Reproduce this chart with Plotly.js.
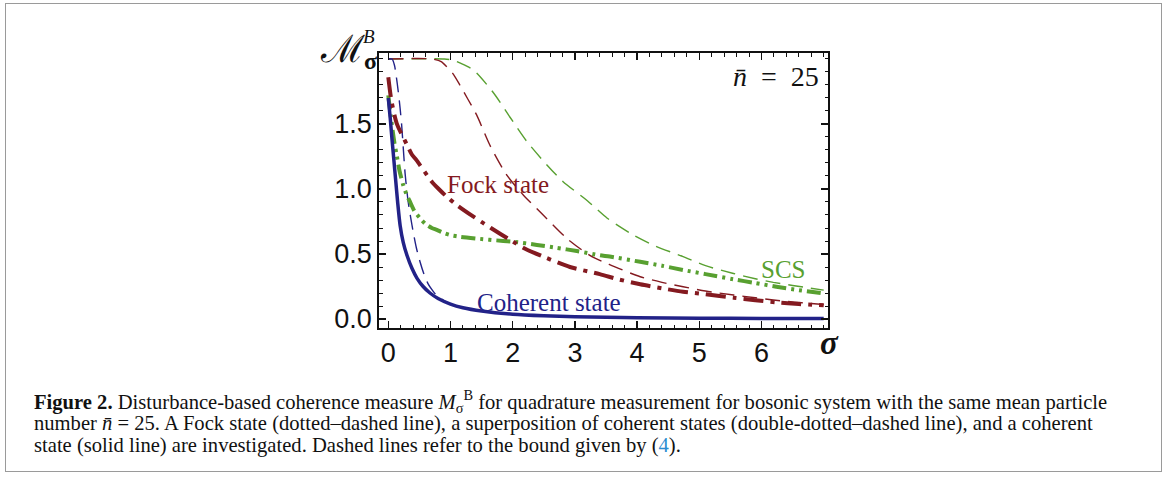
<!DOCTYPE html>
<html>
<head>
<meta charset="utf-8">
<script src="https://cdn.plot.ly/plotly-3.0.1.min.js"></script>
<style>
  html, body { margin: 0; padding: 0; background: #fff; }
  #wrap { position: relative; width: 1168px; height: 477px; overflow: hidden; }
  #border { position: absolute; left: 5px; top: 3px; width: 1155px; height: 467px; border: 1.5px solid #9a9a9a; }
  #plot { position: absolute; left: 0; top: 0; width: 1168px; height: 477px; }
</style>
</head>
<body>
<div id="wrap">
  <div id="border"></div>
  <div id="plot"></div>
</div>
<script>
// ---- data ----
const cohX = [0.0, 0.03, 0.06, 0.09, 0.12, 0.15, 0.19, 0.24, 0.30, 0.38, 0.46, 0.56, 0.67, 0.8, 1.0, 1.2, 1.5, 2.0, 2.5, 3.0, 3.5, 4, 5, 6, 7];
const cohY = [1.70, 1.55, 1.38, 1.22, 1.06, 0.90, 0.72, 0.59, 0.49, 0.39, 0.315, 0.25, 0.20, 0.158, 0.115, 0.087, 0.062, 0.037, 0.025, 0.018, 0.013, 0.010, 0.0065, 0.0045, 0.0035];

const cohBX = [0, 0.06, 0.1, 0.13, 0.16, 0.19, 0.215, 0.24, 0.27, 0.3, 0.32, 0.36, 0.4, 0.45, 0.51, 0.57, 0.64, 0.71, 0.78, 0.9, 1.0, 1.2];
const cohBY = [2.0, 2.0, 1.95, 1.86, 1.75, 1.62, 1.49, 1.32, 1.12, 0.98, 0.90, 0.78, 0.67, 0.55, 0.44, 0.35, 0.27, 0.22, 0.18, 0.14, 0.115, 0.087];

const scsX = [0.0, 0.05, 0.1, 0.135, 0.18, 0.24, 0.3, 0.35, 0.42, 0.51, 0.6, 0.7, 0.78, 0.9, 1.0, 1.15, 1.4, 1.85, 2.0, 2.39, 2.7, 3.03, 3.4, 3.56, 4.05, 4.4, 4.74, 5.1, 5.55, 5.9, 6.24, 6.6, 7.0];
const scsY = [1.72, 1.52, 1.35, 1.26, 1.14, 1.03, 0.95, 0.90, 0.83, 0.775, 0.73, 0.70, 0.685, 0.66, 0.645, 0.633, 0.62, 0.60, 0.595, 0.57, 0.548, 0.523, 0.49, 0.48, 0.44, 0.41, 0.377, 0.345, 0.305, 0.277, 0.248, 0.222, 0.197];

const scsBX = [0, 0.9, 1.05, 1.15, 1.37, 1.69, 1.96, 2.22, 2.55, 2.81, 3.2, 3.52, 3.94, 4.3, 4.74, 5.1, 5.55, 5.9, 6.19, 6.5, 7.0];
const scsBY = [2.0, 2.0, 1.99, 1.97, 1.915, 1.74, 1.55, 1.37, 1.185, 1.056, 0.91, 0.775, 0.646, 0.56, 0.48, 0.41, 0.35, 0.31, 0.282, 0.258, 0.222];

const fockX = [0.0, 0.05, 0.135, 0.3, 0.376, 0.456, 0.7, 0.815, 0.94, 1.1, 1.37, 1.65, 1.96, 2.2, 2.49, 2.92, 3.4, 3.7, 4.05, 4.4, 4.74, 5.1, 5.55, 5.9, 6.24, 6.6, 7.0];
const fockY = [1.86, 1.68, 1.505, 1.34, 1.267, 1.22, 1.056, 0.998, 0.94, 0.877, 0.787, 0.70, 0.608, 0.54, 0.48, 0.40, 0.345, 0.305, 0.267, 0.236, 0.21, 0.19, 0.164, 0.145, 0.128, 0.115, 0.105];

const fockBX = [0, 0.7, 0.85, 0.94, 1.05, 1.15, 1.28, 1.42, 1.63, 1.9, 2.17, 2.49, 2.87, 3.24, 3.55, 4.05, 4.4, 4.74, 5.1, 5.55, 5.9, 6.19, 6.5, 7.0];
const fockBY = [2.0, 2.0, 1.98, 1.94, 1.88, 1.80, 1.69, 1.57, 1.34, 1.11, 0.954, 0.80, 0.62, 0.49, 0.42, 0.325, 0.282, 0.248, 0.215, 0.185, 0.163, 0.146, 0.131, 0.112];

const xTicks = [0, 1, 2, 3, 4, 5, 6];
const xTickText = ['0', '1', '2', '3', '4', '5', '6'];
const yTicks = [0, 0.5, 1.0, 1.5];
const yTickText = ['0.0', '0.5', '1.0', '1.5'];

const captionLines = [
  '<b>Figure 2.</b> Disturbance-based coherence measure <i>M</i><sub>σ</sub><sup>B</sup> for quadrature measurement for bosonic system with the same mean particle',
  'number <i>n\u0304</i> = 25. A Fock state (dotted–dashed line), a superposition of coherent states (double-dotted–dashed line), and a coherent',
  'state (solid line) are investigated. Dashed lines refer to the bound given by (<span style="color:#2a8bd0">4</span>).'
];

const NAVY = 'rgb(34,34,136)';
const RED = 'rgb(132,26,32)';
const GREEN = 'rgb(88,160,48)';
const INK = '#111';

function tr(x, y, color, width, dash) {
  const line = { color: color, width: width, shape: 'spline', smoothing: 0.7 };
  if (dash) line.dash = dash;
  return { x: x, y: y, type: 'scatter', mode: 'lines', hoverinfo: 'skip', line: line };
}

const traces = [
  tr(scsBX, scsBY, GREEN, 1.4, '15px,8px'),
  tr(fockBX, fockBY, RED, 1.4, '15px,8px'),
  tr(cohBX, cohBY, NAVY, 1.4, '15px,8px'),
  tr(scsX, scsY, GREEN, 4, '14px,5px,3px,5px,3px,5px'),
  tr(fockX, fockY, RED, 4, '20px,7px,4px,7px'),
  tr(cohX, cohY, NAVY, 3.5, null)
];

// pixel -> paper helpers for text placement
const L = 379, R = 828, T = 53, B = 328;
const px = v => (v - L) / (R - L);
const py = v => (B - v) / (B - T);

function ann(text, x, y, opts) {
  return Object.assign({ text: text, x: px(x), y: py(y), xref: 'paper', yref: 'paper',
    showarrow: false, xanchor: 'center', yanchor: 'middle' }, opts);
}

const capY = [401, 423, 445];
const annotations = [
  ann('Fock state', 498, 184, { font: { family: 'Liberation Serif', size: 25, color: RED } }),
  ann('Coherent state', 549, 302, { font: { family: 'Liberation Serif', size: 25, color: NAVY } }),
  ann('SCS', 783, 269, { font: { family: 'Liberation Serif', size: 25, color: GREEN } }),
  ann('<i>n\u0304</i>\u2002=\u200225', 821, 76, { xanchor: 'right', font: { family: 'Liberation Serif', size: 28, color: INK } }),
  ann('\u2133', 342, 49, { font: { family: 'DejaVu Serif', size: 38, color: INK } }),
  ann('<i>B</i>', 369, 36, { font: { family: 'Liberation Serif', size: 19, color: INK } }),
  ann('<b>σ</b>', 370, 61, { font: { family: 'Liberation Serif', size: 24, color: INK } }),
  ann('<b><i>σ</i></b>', 829, 343, { font: { family: 'Liberation Serif', size: 33, color: INK } })
].concat(captionLines.map((t, i) => ann(t, 32, capY[i], {
  xanchor: 'left', align: 'left', font: { family: 'Liberation Serif', size: 20.6, color: INK }
})));

const axisCommon = {
  showgrid: false, zeroline: false, showline: true, linecolor: INK, linewidth: 1.8,
  mirror: 'allticks', ticks: 'inside', ticklen: 7, tickwidth: 1.3, tickcolor: INK,
  tickfont: { family: 'Liberation Sans', size: 27, color: INK }, fixedrange: true
};

const layout = {
  width: 1168, height: 477,
  margin: { l: L, r: 1168 - R, t: T, b: 477 - B, pad: 0 },
  paper_bgcolor: 'rgba(0,0,0,0)', plot_bgcolor: 'rgba(0,0,0,0)',
  showlegend: false,
  xaxis: Object.assign({}, axisCommon, {
    range: [-0.1495, 7.069], tickmode: 'array', tickvals: xTicks, ticktext: xTickText,
    minor: { tick0: 0, dtick: 0.2, ticks: 'inside', ticklen: 3.5, tickwidth: 1, tickcolor: INK }
  }),
  yaxis: Object.assign({}, axisCommon, {
    range: [-0.0692, 2.046], tickmode: 'array', tickvals: yTicks, ticktext: yTickText,
    minor: { tick0: 0, dtick: 0.1, ticks: 'inside', ticklen: 3.5, tickwidth: 1, tickcolor: INK }
  }),
  annotations: annotations
};

Plotly.newPlot('plot', traces, layout, { displayModeBar: false, staticPlot: true });
</script>
</body>
</html>
